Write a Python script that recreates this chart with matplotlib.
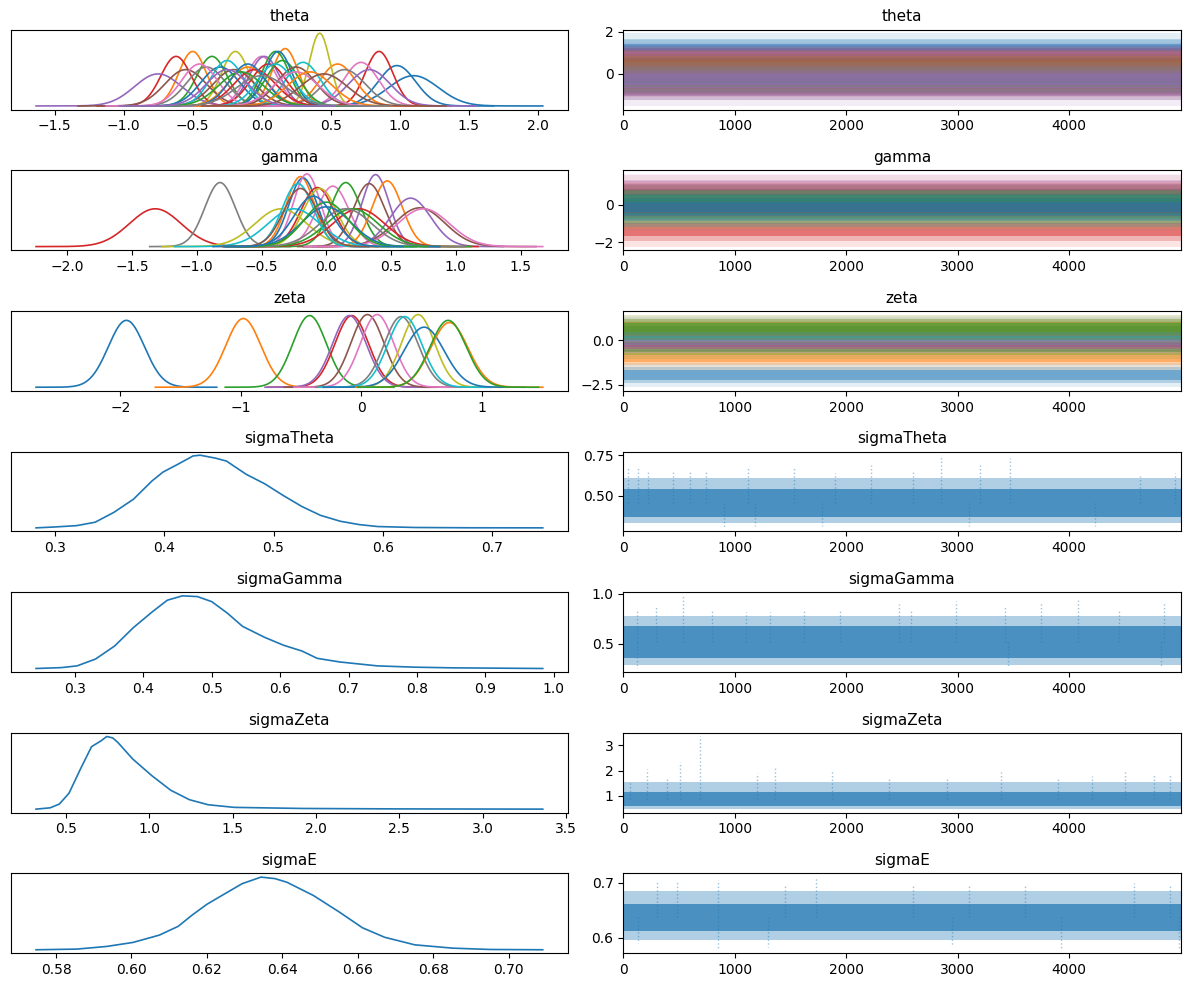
import numpy as np
import matplotlib.pyplot as plt

# draws per chain in the trace panels
n_draws = 5000

# vector parameters: centre / spread of each component's posterior
theta_mu = [1.10, 0.98, 0.85, 0.72, 0.55, 0.42, 0.30, 0.17, -0.19, -0.36,
            -0.50, -0.62, -0.75, 0.00, 0.02, 0.60, 0.78, -0.55, -0.30, -0.10,
            0.10, 0.05, -0.20, -0.25, -0.40, -0.45, 0.15, 0.12, 0.25, -0.05,
            0.10, -0.10, 0.25, -0.15, 0.35, 0.45, 0.00, -0.25]
theta_sd = [0.18, 0.135, 0.10, 0.125, 0.13, 0.075, 0.125, 0.095, 0.10, 0.11,
            0.10, 0.11, 0.17, 0.11, 0.11, 0.15, 0.15, 0.15, 0.14, 0.14,
            0.10, 0.13, 0.15, 0.12, 0.14, 0.13, 0.12, 0.10, 0.14, 0.15,
            0.13, 0.13, 0.16, 0.16, 0.16, 0.17, 0.18, 0.15]
theta_col = ['C0', 'C0', 'C3', 'C6', 'C1', 'C8', 'C9', 'C1', 'C8', 'C2',
             'C1', 'C3', 'C4', 'C6', 'C4', 'C7', 'C4', 'C5', 'C0', 'C1',
             'C2', 'C3', 'C5', 'C9', 'C7', 'C6', 'C2', 'C0', 'C5', 'C3',
             'C9', 'C0', 'C6', 'C2', 'C1', 'C5', 'C7', 'C4']

gamma_mu = [-1.32, -0.82, -0.20, -0.18, -0.15, -0.07, -0.05, 0.05, 0.15, 0.38,
            0.47, 0.33, 0.65, 0.72, 0.75, -0.35, -0.25, 0.25, 0.20, -0.22,
            0.15, 0.00, 0.00, -0.20, -0.10]
gamma_sd = [0.20, 0.118, 0.108, 0.11, 0.104, 0.128, 0.13, 0.125, 0.118, 0.105,
            0.115, 0.12, 0.156, 0.195, 0.20, 0.20, 0.20, 0.20, 0.20, 0.12,
            0.20, 0.19, 0.17, 0.13, 0.15]
gamma_col = ['C3', 'C7', 'C1', 'C0', 'C6', 'C3', 'C8', 'C6', 'C2', 'C4',
             'C1', 'C5', 'C4', 'C5', 'C6', 'C8', 'C9', 'C3', 'C2', 'C9',
             'C7', 'C0', 'C2', 'C5', 'C0']

zeta_mu = [-1.95, -0.98, -0.43, -0.08, -0.10, 0.05, 0.13, 0.33, 0.47, 0.36, 0.52, 0.73, 0.72]
zeta_sd = [0.15, 0.146, 0.14, 0.14, 0.14, 0.138, 0.138, 0.142, 0.138, 0.142, 0.167, 0.155, 0.15]
zeta_col = ['C0', 'C1', 'C2', 'C3', 'C4', 'C5', 'C6', 'C7', 'C8', 'C9', 'C0', 'C1', 'C2']

# how far (in sd) the sampled values reach on each side, per parameter
tail_reach = {'theta': 5.2, 'gamma': 4.6, 'zeta': 5.0}

# scalar parameters: KDE outline (x, relative height)
sigmaTheta_x = [0.283, 0.300, 0.320, 0.337, 0.354, 0.372, 0.389, 0.399, 0.413, 0.4265,
                0.433, 0.447, 0.457, 0.466, 0.475, 0.492, 0.509, 0.526, 0.543, 0.561,
                0.578, 0.595, 0.629, 0.680, 0.746]
sigmaTheta_y = [0.0, 0.012, 0.03, 0.077, 0.21, 0.39, 0.64, 0.76, 0.87, 0.98,
                0.99, 0.95, 0.91, 0.82, 0.73, 0.60, 0.44, 0.29, 0.17, 0.09,
                0.045, 0.018, 0.005, 0.001, 0.0]

sigmaGamma_x = [0.243, 0.280, 0.303, 0.330, 0.358, 0.385, 0.413, 0.435, 0.457, 0.479,
                0.500, 0.523, 0.545, 0.577, 0.605, 0.632, 0.654, 0.687, 0.742, 0.797,
                0.852, 0.984]
sigmaGamma_y = [0.0, 0.012, 0.036, 0.13, 0.31, 0.56, 0.78, 0.94, 1.0, 0.99,
                0.92, 0.76, 0.58, 0.43, 0.32, 0.24, 0.14, 0.09, 0.036, 0.018,
                0.009, 0.0]

sigmaZeta_x = [0.32, 0.405, 0.46, 0.518, 0.586, 0.653, 0.71, 0.744, 0.78, 0.81,
               0.90, 1.015, 1.128, 1.24, 1.353, 1.51, 1.92, 2.50, 3.36]
sigmaZeta_y = [0.0, 0.018, 0.07, 0.22, 0.55, 0.86, 0.94, 1.0, 0.98, 0.92,
               0.69, 0.46, 0.26, 0.13, 0.06, 0.024, 0.009, 0.003, 0.0]

sigmaE_x = [0.5747, 0.5855, 0.5934, 0.6004, 0.6074, 0.6124, 0.6160, 0.6200, 0.6233, 0.6293,
            0.6343, 0.6380, 0.6412, 0.6482, 0.6552, 0.6612, 0.6671, 0.6751, 0.6851, 0.695,
            0.709]
sigmaE_y = [0.0, 0.009, 0.045, 0.10, 0.20, 0.32, 0.47, 0.62, 0.72, 0.90,
            0.99, 0.97, 0.92, 0.74, 0.51, 0.30, 0.17, 0.067, 0.022, 0.004,
            0.0]

# scalar traces: dense core, outer band, and the visible spikes (draw, value)
sigma_core = {'sigmaTheta': (0.37, 0.54), 'sigmaGamma': (0.36, 0.68),
              'sigmaZeta': (0.58, 1.15), 'sigmaE': (0.612, 0.662)}
sigma_outer = {'sigmaTheta': (0.33, 0.61), 'sigmaGamma': (0.29, 0.78),
               'sigmaZeta': (0.47, 1.55), 'sigmaE': (0.596, 0.684)}
sigma_spikes = {
    'sigmaTheta': ([40, 130, 220, 450, 600, 740, 1120, 1530, 1900, 2220, 2600, 2850, 3200, 3470, 4630, 4950,
                    900, 1180, 1780, 3100, 4230],
                   [0.67, 0.68, 0.66, 0.65, 0.66, 0.65, 0.67, 0.67, 0.64, 0.69, 0.65, 0.75, 0.69, 0.73, 0.62, 0.64,
                    0.30, 0.31, 0.31, 0.31, 0.31]),
    'sigmaGamma': ([120, 290, 540, 800, 1100, 1320, 1620, 1940, 2470, 2580, 2980, 3420, 3750, 4080, 4450, 4850,
                    120, 3450, 4820],
                   [0.85, 0.87, 0.98, 0.83, 0.82, 0.82, 0.85, 0.83, 0.90, 0.85, 0.93, 0.88, 0.91, 0.95, 0.84, 0.92,
                    0.25, 0.27, 0.28]),
    'sigmaZeta': ([60, 210, 390, 510, 690, 1200, 1360, 1870, 2380, 2900, 3390, 3900, 4200, 4500, 4760, 4900],
                  [1.55, 2.05, 1.70, 2.35, 3.35, 1.90, 2.10, 2.00, 1.75, 1.70, 1.95, 1.75, 1.80, 2.00, 1.85, 1.85]),
    'sigmaE': ([300, 480, 850, 1450, 1730, 2600, 3100, 3600, 4580, 4900,
                130, 850, 1300, 2950, 3930, 4980],
               [0.702, 0.703, 0.705, 0.695, 0.710, 0.695, 0.696, 0.695, 0.700, 0.697,
                0.590, 0.580, 0.583, 0.584, 0.578, 0.580]),
}

vector_params = [('theta', theta_mu, theta_sd, theta_col),
                 ('gamma', gamma_mu, gamma_sd, gamma_col),
                 ('zeta', zeta_mu, zeta_sd, zeta_col)]
scalar_params = [('sigmaTheta', sigmaTheta_x, sigmaTheta_y),
                 ('sigmaGamma', sigmaGamma_x, sigmaGamma_y),
                 ('sigmaZeta', sigmaZeta_x, sigmaZeta_y),
                 ('sigmaE', sigmaE_x, sigmaE_y)]

fig, axes = plt.subplots(7, 2, figsize=(11.89, 9.89))
draws = [0, n_draws - 1]

for row, (name, mus, sds, cols) in enumerate(vector_params):
    ax_d, ax_t = axes[row]
    reach = tail_reach[name]
    for mu, sd, c in zip(mus, sds, cols):
        xs = np.linspace(mu - reach * sd, mu + reach * sd, 200)
        ys = np.exp(-0.5 * ((xs - mu) / sd) ** 2) / (sd * np.sqrt(2 * np.pi))
        ax_d.plot(xs, ys, color=c, lw=1.2)
        # chain trace drawn as nested bands that fade outwards
        for k, a in [(4.6, 0.12), (3.0, 0.25), (1.8, 0.45)]:
            ax_t.fill_between(draws, mu - k * sd, mu + k * sd, color=c, alpha=a, lw=0)
    ax_d.set_title(name, fontsize=11)
    ax_t.set_title(name, fontsize=11)

for i, (name, xs, ys) in enumerate(scalar_params):
    ax_d, ax_t = axes[i + 3]
    ax_d.plot(xs, ys, color='C0', lw=1.2)
    lo, hi = sigma_outer[name]
    ax_t.fill_between(draws, lo, hi, color='C0', alpha=0.35, lw=0)
    lo, hi = sigma_core[name]
    ax_t.fill_between(draws, lo, hi, color='C0', alpha=0.7, lw=0)
    sx, sv = sigma_spikes[name]
    mid = sum(sigma_core[name]) / 2
    ax_t.vlines(sx, mid, sv, color='C0', alpha=0.45, lw=1, linestyles=':')
    ax_d.set_title(name, fontsize=11)
    ax_t.set_title(name, fontsize=11)

for ax_d, ax_t in axes:
    ax_d.set_yticks([])
    ax_t.set_xlim(0, n_draws - 1)

plt.subplots_adjust(left=0.009, right=0.993, top=0.97, bottom=0.036, wspace=0.099, hspace=0.76)
plt.savefig('out.png', dpi=100)
plt.close()
